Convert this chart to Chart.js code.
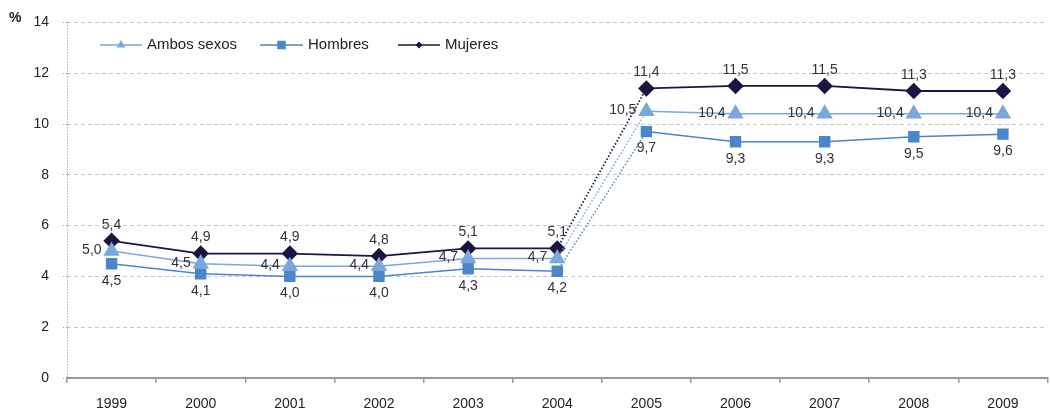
<!DOCTYPE html>
<html>
<head>
<meta charset="utf-8">
<script src="https://cdn.jsdelivr.net/npm/chart.js@4"></script>
<style>
  html, body { margin: 0; padding: 0; background: #fff; overflow: hidden; }
  #wrap { width: 1057px; height: 417px; }
</style>
</head>
<body>
<div id="wrap"><canvas id="chart" width="1057" height="417"></canvas></div>
<script>
const years = ["1999", "2000", "2001", "2002", "2003", "2004", "2005", "2006", "2007", "2008", "2009"];
const ambos = [5.0, 4.5, 4.4, 4.4, 4.7, 4.7, 10.5, 10.4, 10.4, 10.4, 10.4];
const hombres = [4.5, 4.1, 4.0, 4.0, 4.3, 4.2, 9.7, 9.3, 9.3, 9.5, 9.6];
const mujeres = [5.4, 4.9, 4.9, 4.8, 5.1, 5.1, 11.4, 11.5, 11.5, 11.3, 11.3];
const yTicks = [0, 2, 4, 6, 8, 10, 12, 14];

const font = "Liberation Sans, Arial, sans-serif";
const breakIndex = 5; // serie cambia entre 2004 y 2005

function fmt(v) { return v.toFixed(1).replace(".", ","); }

// etiquetas de datos, leyenda, eje y punteado y "%"
const extras = {
  id: "extras",
  beforeDatasetsDraw(chart) {
    const ctx = chart.ctx;
    const a = chart.chartArea;
    ctx.save();
    ctx.strokeStyle = "#888";
    ctx.lineWidth = 1;
    ctx.setLineDash([1, 2]);
    ctx.beginPath();
    ctx.moveTo(a.left + 0.5, a.top);
    ctx.lineTo(a.left + 0.5, a.bottom);
    ctx.stroke();
    ctx.restore();
  },
  afterDatasetsDraw(chart) {
    const ctx = chart.ctx;
    ctx.save();
    ctx.font = "14px " + font;
    ctx.fillStyle = "#333";
    chart.data.datasets.forEach((ds, i) => {
      const meta = chart.getDatasetMeta(i);
      meta.data.forEach((pt, j) => {
        const txt = fmt(ds.data[j]);
        if (ds.labelPos === "above") {
          ctx.textAlign = "center"; ctx.textBaseline = "bottom";
          ctx.fillText(txt, pt.x, pt.y - 9);
        } else if (ds.labelPos === "below") {
          ctx.textAlign = "center"; ctx.textBaseline = "top";
          ctx.fillText(txt, pt.x, pt.y + 10);
        } else {
          ctx.textAlign = "right"; ctx.textBaseline = "middle";
          ctx.fillText(txt, pt.x - 10, pt.y - 1);
        }
      });
    });

    // leyenda
    const items = [
      { ds: 0, x: 100, w: 42 },
      { ds: 1, x: 260, w: 43 },
      { ds: 2, x: 398, w: 42 }
    ];
    const ly = 45;
    items.forEach(it => {
      const ds = chart.data.datasets[it.ds];
      ctx.strokeStyle = ds.borderColor;
      ctx.lineWidth = 1.5;
      ctx.setLineDash([]);
      ctx.beginPath();
      ctx.moveTo(it.x, ly); ctx.lineTo(it.x + it.w, ly);
      ctx.stroke();
      ctx.fillStyle = ds.pointBackgroundColor;
      ctx.strokeStyle = ds.pointBackgroundColor;
      Chart.helpers.drawPoint(ctx, {
        pointStyle: ds.pointStyle,
        radius: ds.legendRadius,
        borderWidth: 0
      }, it.x + it.w / 2, ly);
      ctx.fillStyle = "#222";
      ctx.textAlign = "left"; ctx.textBaseline = "middle";
      ctx.font = "15px " + font;
      ctx.fillText(ds.label, it.x + it.w + 5, ly);
    });

    ctx.font = "bold 14px " + font;
    ctx.fillStyle = "#222";
    ctx.textAlign = "left"; ctx.textBaseline = "middle";
    ctx.fillText("%", 9, 18);
    ctx.restore();
  }
};

function dotted(ctx) {
  return ctx.p0DataIndex === breakIndex ? [1.5, 2] : undefined;
}

new Chart(document.getElementById("chart"), {
  type: "line",
  data: {
    labels: years,
    datasets: [
      {
        label: "Ambos sexos",
        data: ambos,
        borderColor: "#7aa7dc",
        pointBackgroundColor: "#7aa7dc",
        pointBorderColor: "#7aa7dc",
        pointStyle: "triangle",
        pointRadius: 8,
        legendRadius: 5,
        borderWidth: 1.5,
        labelPos: "left",
        segment: { borderDash: dotted }
      },
      {
        label: "Hombres",
        data: hombres,
        borderColor: "#4a86c8",
        pointBackgroundColor: "#4a86c8",
        pointBorderColor: "#4a86c8",
        pointStyle: "rect",
        pointRadius: 7,
        legendRadius: 6,
        borderWidth: 1.5,
        labelPos: "below",
        segment: { borderDash: dotted }
      },
      {
        label: "Mujeres",
        data: mujeres,
        borderColor: "#1e1442",
        pointBackgroundColor: "#1e1442",
        pointBorderColor: "#1e1442",
        pointStyle: "rectRot",
        pointRadius: 7,
        legendRadius: 3.5,
        borderWidth: 1.8,
        labelPos: "above",
        segment: { borderDash: dotted }
      }
    ]
  },
  options: {
    responsive: false,
    animation: false,
    layout: { padding: { top: 11, left: 0, right: 0, bottom: 0 } },
    plugins: { legend: { display: false }, tooltip: { enabled: false } },
    scales: {
      x: {
        offset: true,
        grid: { offset: true, drawOnChartArea: false, color: "#999", tickLength: 5, lineWidth: 1.5 },
        border: { color: "#999", width: 2 },
        ticks: { font: { family: font, size: 14 }, color: "#222", padding: 13, maxRotation: 0 },
        afterFit(scale) { scale.height = 39; }
      },
      y: {
        min: 0,
        max: 14,
        afterBuildTicks(scale) { scale.ticks = yTicks.map(v => ({ value: v })); },
        grid: { color: "#c8c8c8", tickLength: 4, lineWidth: 1, tickColor: "#999", tickBorderDash: [1, 2] },
        border: { display: false, dash: [4, 3] },
        ticks: { font: { family: font, size: 14 }, color: "#222", padding: 14 },
        afterFit(scale) { scale.width = 67; }
      }
    }
  },
  plugins: [extras]
});
</script>
</body>
</html>
